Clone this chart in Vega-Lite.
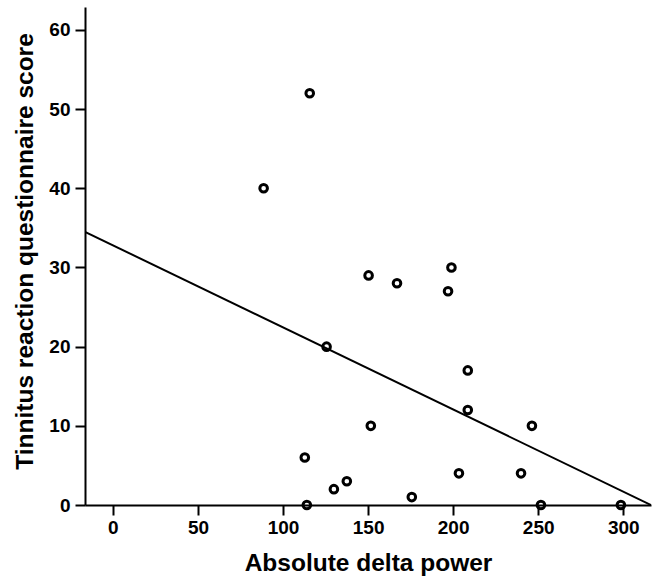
{
  "$schema": "https://vega.github.io/schema/vega-lite/v6.json",
  "width": 566,
  "height": 498,
  "autosize": {"type": "none"},
  "padding": {"left": 85, "top": 7, "right": 1, "bottom": 72},
  "background": "white",
  "config": {
    "view": {"stroke": null},
    "font": "Liberation Sans"
  },
  "datasets": {
    "points": [
      {"delta": 88.6, "score": 40},
      {"delta": 115.7, "score": 52},
      {"delta": 150.3, "score": 29},
      {"delta": 167.0, "score": 28},
      {"delta": 199.0, "score": 30},
      {"delta": 197.0, "score": 27},
      {"delta": 125.6, "score": 20},
      {"delta": 208.6, "score": 17},
      {"delta": 208.6, "score": 12},
      {"delta": 151.6, "score": 10},
      {"delta": 246.3, "score": 10},
      {"delta": 112.8, "score": 6},
      {"delta": 129.9, "score": 2},
      {"delta": 137.5, "score": 3},
      {"delta": 175.7, "score": 1},
      {"delta": 203.4, "score": 4},
      {"delta": 239.9, "score": 4},
      {"delta": 114.0, "score": 0},
      {"delta": 251.6, "score": 0},
      {"delta": 298.6, "score": 0}
    ],
    "fit": [
      {"delta": -16.4, "score": 34.5},
      {"delta": 316.3, "score": 0}
    ]
  },
  "layer": [
    {
      "data": {"name": "fit"},
      "mark": {"type": "line", "color": "black", "strokeWidth": 2, "clip": true},
      "encoding": {
        "x": {"field": "delta", "type": "quantitative"},
        "y": {"field": "score", "type": "quantitative"}
      }
    },
    {
      "data": {"name": "points"},
      "mark": {"type": "point", "shape": "circle", "filled": false, "color": "black", "strokeWidth": 3, "size": 58, "opacity": 1},
      "encoding": {
        "x": {
          "field": "delta", "type": "quantitative",
          "scale": {"domain": [-16.4, 316.3], "nice": false, "zero": false},
          "axis": {
            "title": "Absolute delta power",
            "values": [0, 50, 100, 150, 200, 250, 300],
            "grid": false,
            "domainColor": "black", "domainWidth": 2,
            "tickColor": "black", "tickWidth": 2, "tickSize": 10,
            "labelFont": "Liberation Sans", "labelFontWeight": "bold", "labelFontSize": 19, "labelColor": "black", "labelPadding": 3,
            "titleFont": "Liberation Sans", "titleFontWeight": "bold", "titleFontSize": 24.5, "titleColor": "black", "titlePadding": 14
          }
        },
        "y": {
          "field": "score", "type": "quantitative",
          "scale": {"domain": [0, 62.9], "nice": false},
          "axis": {
            "title": "Tinnitus reaction questionnaire score",
            "values": [0, 10, 20, 30, 40, 50, 60],
            "grid": false,
            "domainColor": "black", "domainWidth": 2,
            "tickColor": "black", "tickWidth": 2, "tickSize": 10,
            "labelFont": "Liberation Sans", "labelFontWeight": "bold", "labelFontSize": 19, "labelColor": "black", "labelPadding": 5,
            "titleFont": "Liberation Sans", "titleFontWeight": "bold", "titleFontSize": 24.5, "titleColor": "black", "titlePadding": 11,
            "titleY": 244
          }
        }
      }
    }
  ]
}
